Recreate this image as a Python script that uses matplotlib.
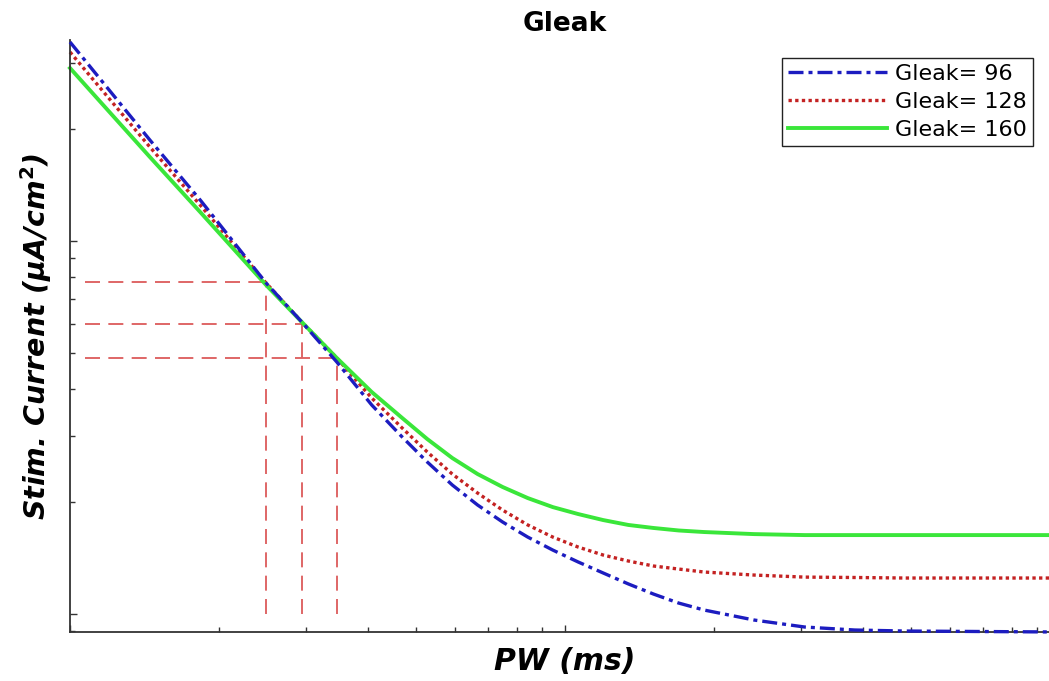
import matplotlib
matplotlib.use("Agg")
import matplotlib.pyplot as plt
from matplotlib.ticker import LogLocator, NullFormatter

# ---- data (log-log axes) ----
pw = [0.0100, 0.0145, 0.0184, 0.0249, 0.0294, 0.0346, 0.0407, 0.0469, 0.0527,
      0.0592, 0.0666, 0.0748, 0.0841, 0.0945, 0.1063, 0.1195, 0.1343, 0.151,
      0.1697, 0.191, 0.241, 0.305, 0.385, 0.486, 1.0]
i_g96 = [34.17, 18.66, 12.80, 7.717, 6.066, 4.738, 3.634, 2.982, 2.556,
         2.218, 1.960, 1.765, 1.608, 1.484, 1.379, 1.288, 1.204, 1.131,
         1.070, 1.025, 0.9636, 0.9229, 0.9060, 0.9004, 0.8949]
i_g128 = [32.12, 17.87, 12.41, 7.717, 6.066, 4.857, 3.794, 3.152, 2.719,
          2.373, 2.110, 1.900, 1.733, 1.608, 1.512, 1.439, 1.387, 1.345,
          1.320, 1.296, 1.272, 1.256, 1.253, 1.249, 1.249]
i_g160 = [29.10, 16.80, 11.89, 7.621, 6.066, 4.857, 3.937, 3.354, 2.945,
          2.620, 2.373, 2.191, 2.046, 1.935, 1.854, 1.786, 1.733, 1.701,
          1.675, 1.659, 1.638, 1.628, 1.628, 1.628, 1.628]
labels = ["Gleak= 96", "Gleak= 128", "Gleak= 160"]

# reference (crossing) guide lines
cross_pw = [0.0249, 0.0294, 0.0346]
cross_i = [7.77, 5.99, 4.86]
guide_x0 = 0.0107
guide_y0 = 1.0

xlim = (0.01, 1.0)
ylim = (0.895, 34.6)

plt.rcParams['font.family'] = ['DejaVu Sans']
plt.rcParams['mathtext.fontset'] = 'dejavusans'

fig = plt.figure(figsize=(10.49, 6.81), dpi=100)
W, H = 1049, 681
ax = fig.add_axes([70 / W, 1 - 632 / H, 990 / W, 592 / H])

ax.set_xscale('log')
ax.set_yscale('log')

guide_col = (0.85, 0.3, 0.3)
for xc, yc in zip(cross_pw, cross_i):
    ax.plot([guide_x0, xc], [yc, yc], color=guide_col, lw=1.2,
            linestyle=(0, (9, 5)), zorder=1)
    ax.plot([xc, xc], [guide_y0, yc], color=guide_col, lw=1.2,
            linestyle=(0, (9, 5)), zorder=1)

l1, = ax.plot(pw, i_g96, color='#1c1cc0', lw=2.4,
              linestyle=(0, (4.5, 1.5, 1.2, 1.5)), dash_capstyle='butt',
              label=labels[0], zorder=3, clip_on=False)
l2, = ax.plot(pw, i_g128, color='#c42222', lw=2.4,
              linestyle=(0, (1, 1)), dash_capstyle='butt',
              label=labels[1], zorder=2, clip_on=False)
l3, = ax.plot(pw, i_g160, color='#3ae63a', lw=2.8, linestyle='-',
              label=labels[2], zorder=2, clip_on=False)

ax.set_xlim(*xlim)
ax.set_ylim(*ylim)

for s in ['top', 'right']:
    ax.spines[s].set_visible(False)
for s in ['left', 'bottom']:
    ax.spines[s].set_linewidth(1.3)
    ax.spines[s].set_color('#333333')

ax.xaxis.set_major_locator(LogLocator(base=10, numticks=10))
ax.xaxis.set_minor_locator(LogLocator(base=10, subs=range(2, 10), numticks=20))
ax.yaxis.set_major_locator(LogLocator(base=10, numticks=10))
ax.yaxis.set_minor_locator(LogLocator(base=10, subs=range(2, 10), numticks=20))
ax.xaxis.set_major_formatter(NullFormatter())
ax.xaxis.set_minor_formatter(NullFormatter())
ax.yaxis.set_major_formatter(NullFormatter())
ax.yaxis.set_minor_formatter(NullFormatter())
ax.tick_params(which='major', direction='in', length=5, width=1.0, color='#333333')
ax.tick_params(which='minor', direction='in', length=3.5, width=1.0, color='#333333')

ax.set_title("Gleak", fontsize=19, fontweight='bold', pad=6.5)
ax.set_xlabel("PW (ms)", fontsize=21.5, fontweight='bold', fontstyle='italic', labelpad=7)
ax.set_ylabel("Stim. Current (μA/cm$^{\\mathbf{2}}$)", fontsize=20.5, fontweight='bold',
              fontstyle='italic', labelpad=8)

leg = ax.legend(handles=[l1, l2, l3], loc='upper right',
                bbox_to_anchor=(1033 / W, 1 - 58 / H), bbox_transform=fig.transFigure,
                borderaxespad=0, fontsize=16, handlelength=4.45, handletextpad=0.36,
                labelspacing=0.355, borderpad=0.28, fancybox=False, framealpha=1,
                edgecolor='#222222')
leg.get_frame().set_linewidth(1.0)

fig.savefig("out.png", dpi=100)
